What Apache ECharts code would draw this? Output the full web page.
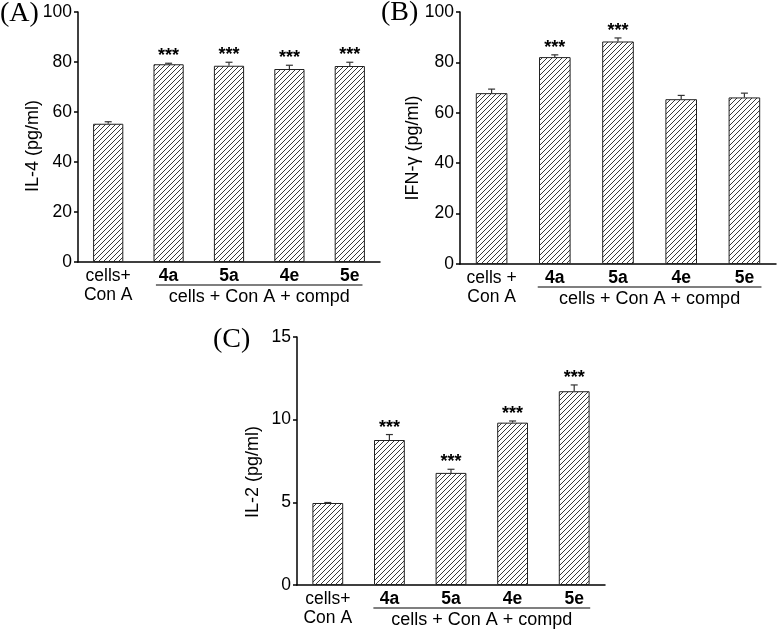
<!DOCTYPE html>
<html><head><meta charset="utf-8">
<script src="https://cdn.jsdelivr.net/npm/echarts@6/dist/echarts.min.js"></script>
<style>html,body{margin:0;padding:0;background:#fff}#c{width:777px;height:630px}</style>
</head><body><div id="c"></div>
<script>
// ---- data ----
const categoriesA = ['cells+\nCon A', '4a', '5a', '4e', '5e'];
const valuesA = [55.3, 79.1, 78.5, 77.2, 78.4];
const errorsA = [0.8, 0.4, 1.4, 1.5, 1.5];
const starsA = ['', '***', '***', '***', '***'];

const categoriesB = ['cells +\nCon A', '4a', '5a', '4e', '5e'];
const valuesB = [67.8, 82.1, 88.3, 65.4, 66.1];
const errorsB = [1.6, 0.9, 1.4, 1.5, 1.7];
const starsB = ['', '***', '***', '', ''];

const categoriesC = ['cells+\nCon A', '4a', '5a', '4e', '5e'];
const valuesC = [4.96, 8.77, 6.78, 9.82, 11.72];
const errorsC = [0.03, 0.33, 0.22, 0.10, 0.38];
const starsC = ['', '***', '***', '***', '***'];

const yAxisAB = { min: 0, max: 100, interval: 20 };
const yAxisC = { min: 0, max: 15, interval: 5 };
const yNames = ['IL-4 (pg/ml)', 'IFN-\u03b3 (pg/ml)', 'IL-2 (pg/ml)'];
const panelLabels = ['(A)', '(B)', '(C)'];
const groupCaption = 'cells + Con A + compd';

// ---- styling ----
const SANS = 'Liberation Sans';
const SERIF = 'Liberation Serif';

function hatch() {
  const s = 5;
  const c = document.createElement('canvas');
  c.width = s; c.height = s;
  const g = c.getContext('2d');
  g.fillStyle = '#fff'; g.fillRect(0, 0, s, s);
  g.strokeStyle = '#222'; g.lineWidth = 0.9;
  g.beginPath();
  g.moveTo(-1, s + 1); g.lineTo(s + 1, -1);
  g.moveTo(-1, 1); g.lineTo(1, -1);
  g.moveTo(s - 1, s + 1); g.lineTo(s + 1, s - 1);
  g.stroke();
  return c;
}
const pattern = { image: hatch(), repeat: 'repeat' };

const grids = [
  { left: 78, top: 12, width: 302, height: 250 },
  { left: 460, top: 12, width: 316, height: 252 },
  { left: 297, top: 337, width: 308, height: 248 }
];

function xAxisFor(i, cats) {
  return {
    type: 'category', gridIndex: i, data: cats,
    axisLine: { lineStyle: { color: '#000', width: 1.5 } },
    axisTick: { show: false },
    axisLabel: {
      interval: 0, margin: 5, color: '#000', fontSize: 17.5, fontFamily: SANS, lineHeight: 19,
      formatter: (v, idx) => idx === 0 ? v : '{b|' + v + '}',
      rich: { b: { fontWeight: 'bold', fontSize: 17.5, fontFamily: SANS, color: '#000' } }
    }
  };
}
function yAxisFor(i, rng) {
  return {
    type: 'value', gridIndex: i, min: rng.min, max: rng.max, interval: rng.interval,
    axisLine: { show: true, lineStyle: { color: '#000', width: 1.5 } },
    axisTick: { show: true, length: 4, lineStyle: { color: '#000', width: 1.5 } },
    axisLabel: { color: '#000', fontSize: 17.5, fontFamily: SANS, margin: 6 },
    splitLine: { show: false }
  };
}
function barSeries(i, vals) {
  return {
    type: 'bar', xAxisIndex: i, yAxisIndex: i, data: vals, barWidth: '50%',
    itemStyle: { color: pattern, borderColor: '#222', borderWidth: 1 },
    z: 2
  };
}
function errSeries(i, vals, errs, stars) {
  return {
    type: 'custom', xAxisIndex: i, yAxisIndex: i, z: 3,
    data: vals.map((v, k) => [k, v + errs[k], v]),
    renderItem: function (params, api) {
      const k = api.value(0);
      const top = api.coord([k, api.value(1)]);
      const base = api.coord([k, api.value(2)]);
      const ch = [
        { type: 'line', shape: { x1: top[0], y1: base[1], x2: top[0], y2: top[1] }, style: { stroke: '#333', lineWidth: 1.2 } },
        { type: 'line', shape: { x1: top[0] - 3.5, y1: top[1], x2: top[0] + 3.5, y2: top[1] }, style: { stroke: '#333', lineWidth: 1.2 } }
      ];
      const s = stars[params.dataIndex];
      if (s) {
        ch.push({ type: 'text', style: { x: top[0], y: top[1] - 7, text: s, fill: '#000', font: 'bold 18px ' + SANS, align: 'center', verticalAlign: 'middle' } });
      }
      return { type: 'group', children: ch };
    }
  };
}

const chart = echarts.init(document.getElementById('c'), null, { renderer: 'canvas' });
chart.setOption({
  animation: false,
  backgroundColor: '#fff',
  grid: grids,
  xAxis: [xAxisFor(0, categoriesA), xAxisFor(1, categoriesB), xAxisFor(2, categoriesC)],
  yAxis: [yAxisFor(0, yAxisAB), yAxisFor(1, yAxisAB), yAxisFor(2, yAxisC)],
  series: [
    barSeries(0, valuesA), errSeries(0, valuesA, errorsA, starsA),
    barSeries(1, valuesB), errSeries(1, valuesB, errorsB, starsB),
    barSeries(2, valuesC), errSeries(2, valuesC, errorsC, starsC)
  ]
});

// annotations
const labelPos = [[0, 14], [381, 13], [213, 340]];
const yNamePos = [[33, 146], [413, 148], [253, 472]];
const extend = [0.21, 0.27, 0.26];
const gfx = [];
panelLabels.forEach((t, i) => {
  gfx.push({ type: 'text', x: labelPos[i][0], y: labelPos[i][1],
    style: { text: t, fill: '#000', font: '28px ' + SERIF, align: 'left', verticalAlign: 'middle' } });
  gfx.push({ type: 'text', x: yNamePos[i][0], y: yNamePos[i][1], rotation: Math.PI / 2,
    style: { text: yNames[i], fill: '#000', font: '18px ' + SANS, align: 'center', verticalAlign: 'middle' } });
});
[0, 1, 2].forEach(i => {
  const g = grids[i];
  const bw = g.width / 5;
  const c1 = chart.convertToPixel({ xAxisIndex: i }, 1);
  const c4 = chart.convertToPixel({ xAxisIndex: i }, 4);
  const x1 = c1 - extend[i] * bw, x2 = c4 + extend[i] * bw;
  const yb = g.top + g.height;
  gfx.push({ type: 'line', shape: { x1: x1, y1: yb + 23, x2: x2, y2: yb + 23 }, style: { stroke: '#000', lineWidth: 1.2 } });
  gfx.push({ type: 'text', x: (x1 + x2) / 2, y: yb + 35,
    style: { text: groupCaption, fill: '#000', font: '18px ' + SANS, align: 'center', verticalAlign: 'middle' } });
});
chart.setOption({ graphic: gfx });
</script>
</body></html>
